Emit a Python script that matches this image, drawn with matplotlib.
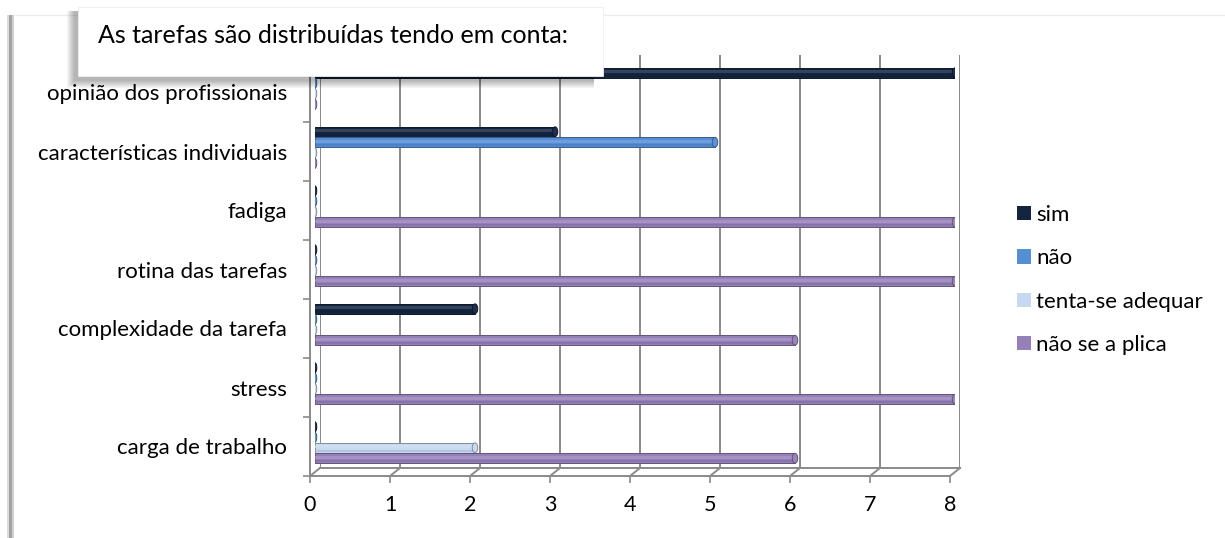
import matplotlib
matplotlib.use("Agg")
import matplotlib.pyplot as plt
import matplotlib.colors as mcolors
from matplotlib.patches import Rectangle, Ellipse, Patch
from matplotlib.lines import Line2D
import numpy as np

plt.rcParams['font.family'] = ['Lato', 'DejaVu Sans']

# ---- data -------------------------------------------------------------
categories = ["carga de trabalho", "stress", "complexidade da tarefa",
              "rotina das tarefas", "fadiga", "características individuais",
              "opinião dos profissionais"]
series_names = ["sim", "não", "tenta-se adequar", "não se a plica"]
sim = [0, 0, 2, 0, 0, 3, 8]
nao = [0, 0, 0, 0, 0, 5, 0]
tenta_adequar = [2, 0, 0, 0, 0, 0, 0]
nao_aplica = [6, 8, 6, 8, 8, 0, 0]
series_values = [sim, nao, tenta_adequar, nao_aplica]
series_colors = ["#13243F", "#558ED5", "#C6D9F1", "#9580BA"]
x_ticks = [0, 1, 2, 3, 4, 5, 6, 7, 8]
title = "As tarefas são distribuídas tendo em conta:"

# ---- figure -----------------------------------------------------------
W, H = 1225, 538
fig = plt.figure(figsize=(W / 100, H / 100), dpi=100)
fig.patch.set_facecolor("white")

GRID = "#8A8A8A"
n_cat = len(categories)
XLIM = (0, 8)
YLIM = (-0.5, n_cat - 0.5)


def px_axes(x0, x1, ytop, ybot, z):
    ax = fig.add_axes([x0 / W, 1 - ybot / H, (x1 - x0) / W, (ybot - ytop) / H])
    ax.set_xlim(*XLIM)
    ax.set_ylim(*YLIM)
    ax.set_facecolor("none")
    ax.set_zorder(z)
    return ax


def shade(c, f):
    r, g, b = mcolors.to_rgb(c)
    if f < 0:
        return (r * (1 + f), g * (1 + f), b * (1 + f))
    return (r + (1 - r) * f, g + (1 - g) * f, b + (1 - b) * f)


# back wall: gridlines
ax_back = px_axes(320, 960, 55, 468, 0)
ax_back.set_xticks(x_ticks)
ax_back.set_yticks([])
ax_back.tick_params(axis="x", length=0, labelbottom=False)
ax_back.grid(axis="x", color=GRID, lw=1.4)
for s in ax_back.spines.values():
    s.set_visible(False)
ax_back.plot(XLIM, [YLIM[0], YLIM[0]], color=GRID, lw=1.4, clip_on=False)

# bars (cylinders)
ax_bar = px_axes(315, 955, 59, 472, 1)
ax_bar.axis("off")
pitch = 0.178
bh = 0.165
px_per_unit = 640 / 8
y_base = np.arange(n_cat)
for j, (vals, c) in enumerate(zip(series_values, series_colors)):
    y = y_base + (1.5 - j) * pitch
    edge = shade(c, -0.35)
    ax_bar.barh(y, vals, height=bh, color=c, edgecolor=edge, lw=0.7, zorder=2)
    ax_bar.barh(y + bh * 0.12, vals, height=bh * 0.32, color=shade(c, 0.25),
                lw=0, alpha=0.6, zorder=3)
    ax_bar.barh(y - bh * 0.32, vals, height=bh * 0.2, color=shade(c, -0.15),
                lw=0, alpha=0.6, zorder=3)
    for yi, v in zip(y, vals):
        w = (5.5 if v > 0 else 3.5) / px_per_unit
        ax_bar.add_patch(Ellipse((v, yi), w, bh, facecolor=shade(c, 0.05),
                                 edgecolor=edge, lw=0.7, zorder=4))

# front axes: category labels and value scale
ax_front = px_axes(310, 950, 63, 476, 2)
for side in ("top", "right"):
    ax_front.spines[side].set_visible(False)
for side in ("left", "bottom"):
    ax_front.spines[side].set_color(GRID)
    ax_front.spines[side].set_linewidth(1.4)
ax_front.set_xticks(x_ticks)
ax_front.set_xticklabels([str(t) for t in x_ticks])
ax_front.tick_params(axis="x", length=5, width=1.2, color=GRID, labelsize=15.5,
                     pad=9)
ax_front.set_yticks(y_base)
ax_front.set_yticklabels(categories)
ax_front.tick_params(axis="y", which="major", length=0, labelsize=16, pad=16.5)
ax_front.set_yticks(np.arange(-0.5, n_cat, 1), minor=True)
ax_front.tick_params(axis="y", which="minor", length=5, width=1.2, color=GRID,
                     direction="out")

# floor connectors between front and back planes
inv = fig.transFigure.inverted()
for xt in x_ticks:
    p0 = inv.transform(ax_front.transData.transform((xt, YLIM[0])))
    p1 = inv.transform(ax_back.transData.transform((xt, YLIM[0])))
    fig.add_artist(Line2D([p0[0], p1[0]], [p0[1], p1[1]], color=GRID, lw=1.4,
                          transform=fig.transFigure, zorder=3))
p0 = inv.transform(ax_front.transData.transform((0, YLIM[1])))
p1 = inv.transform(ax_back.transData.transform((0, YLIM[1])))
fig.add_artist(Line2D([p0[0], p1[0]], [p0[1], p1[1]], color=GRID, lw=1.4,
                      transform=fig.transFigure, zorder=3))

# legend
handles = [Patch(facecolor=c, edgecolor="none") for c in series_colors]
fig.legend(handles, series_names, loc="center left",
           bbox_to_anchor=(1017 / W, 1 - 280 / H), frameon=False, fontsize=16,
           handlelength=0.62, handleheight=0.62, handletextpad=0.25,
           labelspacing=1.05, borderpad=0, borderaxespad=0)

# chart frame: faint top edge and left shadow
fig.add_artist(Line2D([13 / W, 1], [1 - 15 / H, 1 - 15 / H], color="#EDEDED",
                      lw=1, transform=fig.transFigure, zorder=5))
for x0, x1, col in [(7, 9, "#DADADA"), (9, 12, "#A3A3A3"), (12, 14, "#D0D0D0")]:
    fig.add_artist(Rectangle((x0 / W, 0), (x1 - x0) / W, 1 - 15 / H,
                             transform=fig.transFigure, facecolor=col,
                             edgecolor="none", zorder=5))

# title box with soft shadow
bx0, bx1, by0, by1 = 78, 603, 7, 76
for k in range(8, 0, -1):
    fig.add_artist(Rectangle(((bx0 - 3 - k) / W, 1 - (by1 + 4 + k) / H),
                             (bx1 - bx0 - 6 + k) / W, (by1 - by0 + k) / H,
                             transform=fig.transFigure, facecolor="#000000",
                             edgecolor="none", alpha=0.04, zorder=9))
fig.add_artist(Rectangle((bx0 / W, 1 - by1 / H), (bx1 - bx0) / W,
                         (by1 - by0) / H, transform=fig.transFigure,
                         facecolor="white", edgecolor="#EEEEEE", lw=0.6,
                         zorder=10))
fig.text(98 / W, 1 - 43 / H, title, fontsize=18, va="baseline", ha="left",
         zorder=11)

fig.savefig("out.png", dpi=100)
